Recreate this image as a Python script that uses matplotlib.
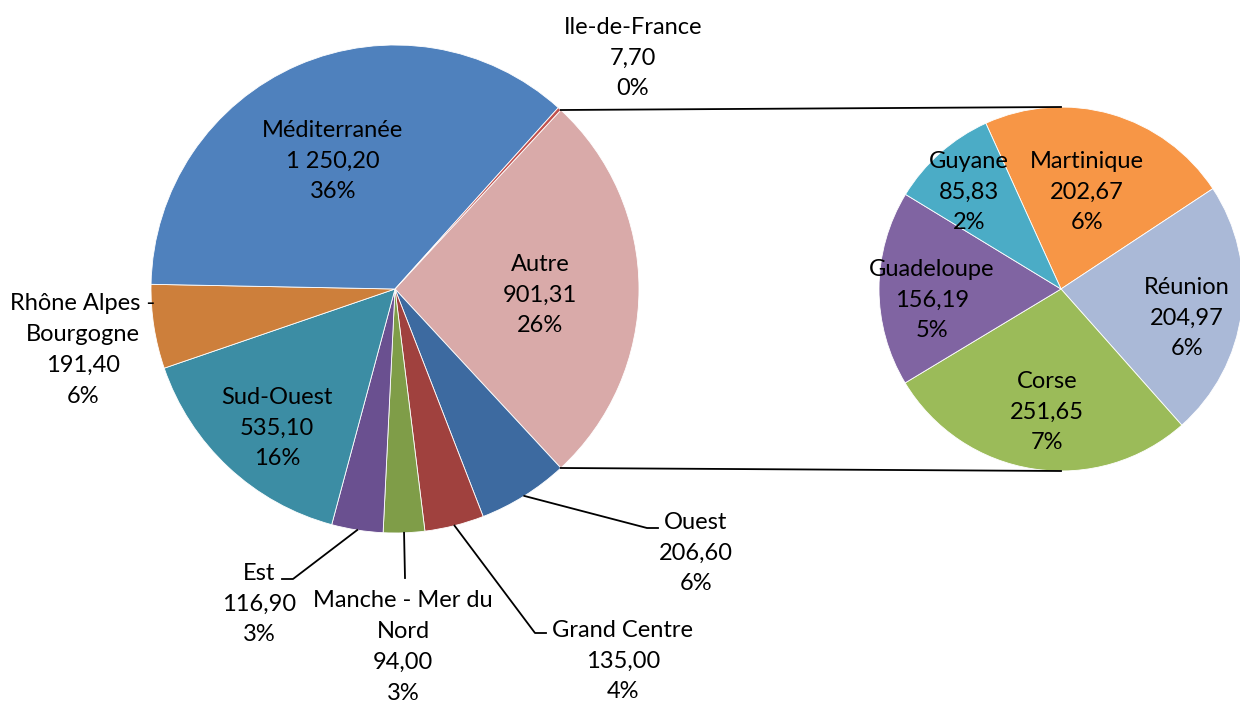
import numpy as np
import matplotlib.pyplot as plt

plt.rcParams['font.family'] = ['Lato', 'DejaVu Sans']

# main pie (clockwise, starting with the "Autre" slice on the right)
main_names = ["Autre", "Ouest", "Grand Centre", "Manche - Mer du\nNord", "Est",
              "Sud-Ouest", "Rhône Alpes -\nBourgogne", "Méditerranée", "Ile-de-France"]
main_values = [901.31, 206.60, 135.00, 94.00, 116.90, 535.10, 191.40, 1250.20, 7.70]
main_colors = ["#D9AAA9", "#3D6AA0", "#A0413E", "#7F9D48", "#6A5090",
               "#3C8DA4", "#CD7F3B", "#4F81BD", "#C0504D"]

# secondary pie: detail of "Autre"
sub_names = ["Martinique", "Réunion", "Corse", "Guadeloupe", "Guyane"]
sub_values = [202.67, 204.97, 251.65, 156.19, 85.83]
sub_colors = ["#F79646", "#AAB9D7", "#9BBB59", "#8064A2", "#4BACC6"]

W, H = 1240, 706
total = sum(main_values)

# label centres (pixels from top-left)
main_pos = {"Autre": (540, 295), "Ouest": (696, 553), "Grand Centre": (623, 661),
            "Manche - Mer du\nNord": (403, 647), "Est": (259, 604),
            "Sud-Ouest": (277, 428), "Rhône Alpes -\nBourgogne": (83, 350),
            "Méditerranée": (333, 161), "Ile-de-France": (633, 58)}
sub_pos = {"Martinique": (1087, 192), "Réunion": (1187, 318), "Corse": (1047, 412),
           "Guadeloupe": (932, 300), "Guyane": (969, 192)}
# leader line elbows
leaders = {"Ouest": [(647, 528), (658, 528)],
           "Grand Centre": [(535, 633), (546, 633)],
           "Manche - Mer du\nNord": [(405, 578)],
           "Est": [(293, 579), (282, 579)]}


def fr(v):
    return "{:,.2f}".format(v).replace(",", " ").replace(".", ",")


def lbl(name, v):
    return "%s\n%s\n%d%%" % (name, fr(v), round(v / total * 100))


fig = plt.figure(figsize=(W / 100, H / 100), dpi=100)
ax = fig.add_axes([0, 0, 1, 1])

c1, r1 = (395, H - 289), 244
c2, r2 = (1061, H - 289), 182
start1 = 360 * main_values[0] / total / 2

w1, _ = ax.pie(main_values, colors=main_colors, center=c1, radius=r1,
               startangle=start1, counterclock=False,
               wedgeprops=dict(edgecolor='white', linewidth=0.6))
w2, _ = ax.pie(sub_values, colors=sub_colors, center=c2, radius=r2,
               startangle=114.4, counterclock=False,
               wedgeprops=dict(edgecolor='white', linewidth=0.6))

fs = 17
for name, v, w in zip(main_names, main_values, w1):
    x, y = main_pos[name]
    ax.text(x, H - y, lbl(name, v), ha='center', va='center', fontsize=fs,
            linespacing=1.58)
    if name in leaders:
        mid = np.deg2rad((w.theta1 + w.theta2) / 2)
        px = [c1[0] + r1 * np.cos(mid)] + [p[0] for p in leaders[name]]
        py = [c1[1] + r1 * np.sin(mid)] + [H - p[1] for p in leaders[name]]
        ax.plot(px, py, color='black', lw=1.3)

for name, v in zip(sub_names, sub_values):
    x, y = sub_pos[name]
    ax.text(x, H - y, lbl(name, v), ha='center', va='center', fontsize=fs,
            linespacing=1.58)

# connector lines between the two pies
for a, yy in [(start1, c2[1] + r2), (start1 - 360 * main_values[0] / total, c2[1] - r2)]:
    t = np.deg2rad(a)
    ax.plot([c1[0] + r1 * np.cos(t), c2[0]], [c1[1] + r1 * np.sin(t), yy],
            color='black', lw=1.3)

ax.set_xlim(0, W)
ax.set_ylim(0, H)
ax.set_aspect('equal')
ax.axis('off')
fig.savefig("out.png", dpi=100)
